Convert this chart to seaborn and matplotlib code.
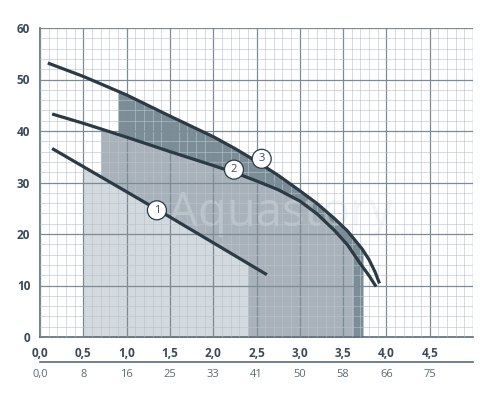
import numpy as np
import pandas as pd
import matplotlib
matplotlib.use('Agg')
import matplotlib.pyplot as plt
import seaborn as sns

# pump curves: flow (m3/h) vs head (m)
q1 = [0.14, 1.0, 1.5, 2.0, 2.62]
h1 = [36.6, 28.2, 23.3, 18.3, 12.1]

q2 = [0.14, 0.5, 1.0, 1.5, 2.0, 2.25, 2.5, 2.75, 3.0, 3.2, 3.4, 3.55, 3.7, 3.8, 3.88]
h2 = [43.3, 41.5, 38.8, 36.0, 33.3, 31.9, 30.3, 28.6, 26.4, 23.9, 20.7, 17.9, 14.2, 11.9, 9.8]

q3 = [0.09, 0.5, 1.0, 1.5, 2.0, 2.25, 2.5, 2.75, 3.0, 3.2, 3.4, 3.55, 3.72, 3.8, 3.87, 3.92]
h3 = [53.2, 50.6, 47.0, 42.9, 38.9, 36.6, 34.1, 31.4, 28.4, 25.9, 23.0, 20.6, 17.1, 15.0, 12.6, 10.4]

# working ranges (shaded areas)
range1 = (0.5, 2.4)
range2 = (0.7, 3.62)
range3 = (0.9, 3.73)

# curve labels (x, y)
labels = {'1': (1.35, 24.6), '2': (2.24, 32.5), '3': (2.56, 34.6)}

x_ticks = [0.0, 0.5, 1.0, 1.5, 2.0, 2.5, 3.0, 3.5, 4.0, 4.5]
x_labels = ['0,0', '0,5', '1,0', '1,5', '2,0', '2,5', '3,0', '3,5', '4,0', '4,5']
lmin_labels = ['0,0', '8', '16', '25', '33', '41', '50', '58', '66', '75']
y_ticks = [0, 10, 20, 30, 40, 50, 60]

sns.set_style('white')
plt.rcParams['font.family'] = ['Open Sans', 'DejaVu Sans']

dark = '#2b3a44'
txt = '#3b4a56'

fig = plt.figure(figsize=(5, 4), dpi=100)
ax = fig.add_axes([0.08, 0.1575, 0.866, 0.7725])


def fill_range(q, h, rng, color):
    xs = [rng[0]] + [v for v in q if rng[0] < v < rng[1]] + [rng[1]]
    ys = np.interp(xs, q, h)
    ax.fill_between(xs, 0, ys, color=color, lw=0, zorder=1)


fill_range(q3, h3, range3, '#7b8d96')
fill_range(q2, h2, range2, '#a9b2bb')
fill_range(q1, h1, range1, '#d2d9df')

# grid
ax.set_xlim(0, 5.0)
ax.set_ylim(0, 60)
ax.set_xticks(np.arange(0, 5.01, 0.1), minor=True)
ax.set_yticks(np.arange(0, 60.1, 2), minor=True)
ax.grid(which='minor', color='#b9c3cb', lw=0.6, alpha=0.7, zorder=2)
ax.grid(which='major', color='#7d8b96', lw=0.9, zorder=2)
ax.set_axisbelow(False)

# faint watermark
ax.text(2.78, 24, 'Aquastory', fontsize=34, color='#dde4ea', alpha=0.35,
        ha='center', va='center', zorder=2.5)

df1 = pd.DataFrame({'q': q1, 'h': h1})
df2 = pd.DataFrame({'q': q2, 'h': h2})
df3 = pd.DataFrame({'q': q3, 'h': h3})
for d in (df1, df2, df3):
    sns.lineplot(data=d, x='q', y='h', ax=ax, color=dark, lw=2.3,
                 sort=False, zorder=3, solid_joinstyle='round',
                 solid_capstyle='butt')

for k, (x, y) in labels.items():
    ax.text(x, y, k, ha='center', va='center', fontsize=8, color=txt, zorder=5,
            bbox=dict(boxstyle='circle,pad=0.36', fc='white', ec=dark, lw=0.9))

ax.set_xlabel('')
ax.set_ylabel('')
ax.set_xticks(x_ticks + [5.0])
ax.set_xticklabels(x_labels + [''])
ax.set_yticks(y_ticks)
ax.set_yticklabels([str(v) for v in y_ticks])
ax.tick_params(axis='both', which='major', length=4, width=1, color='#5b6a76',
               labelsize=8.5, labelcolor=txt, pad=3)
ax.tick_params(which='minor', length=0)
for lab in ax.get_xticklabels() + ax.get_yticklabels():
    lab.set_fontweight('bold')
for s in ['top', 'right']:
    ax.spines[s].set_visible(False)
for s in ['left', 'bottom']:
    ax.spines[s].set_color('#5b6a76')
    ax.spines[s].set_linewidth(1.2)

# second scale in l/min
ax2 = fig.add_axes([0.08, 0.095, 0.866, 0.0001])
ax2.set_xlim(0, 5.0)
ax2.set_yticks([])
ax2.set_xticks(x_ticks + [5.0])
ax2.set_xticklabels(lmin_labels + [''])
ax2.tick_params(axis='x', direction='in', length=4, width=1, color='#5b6a76',
                labelsize=8, labelcolor='#5b6a76', pad=5)
for s in ['top', 'right', 'left']:
    ax2.spines[s].set_visible(False)
ax2.spines['bottom'].set_color('#5b6a76')
ax2.spines['bottom'].set_linewidth(1.2)
ax2.patch.set_alpha(0)

fig.savefig('out.png', dpi=100)
